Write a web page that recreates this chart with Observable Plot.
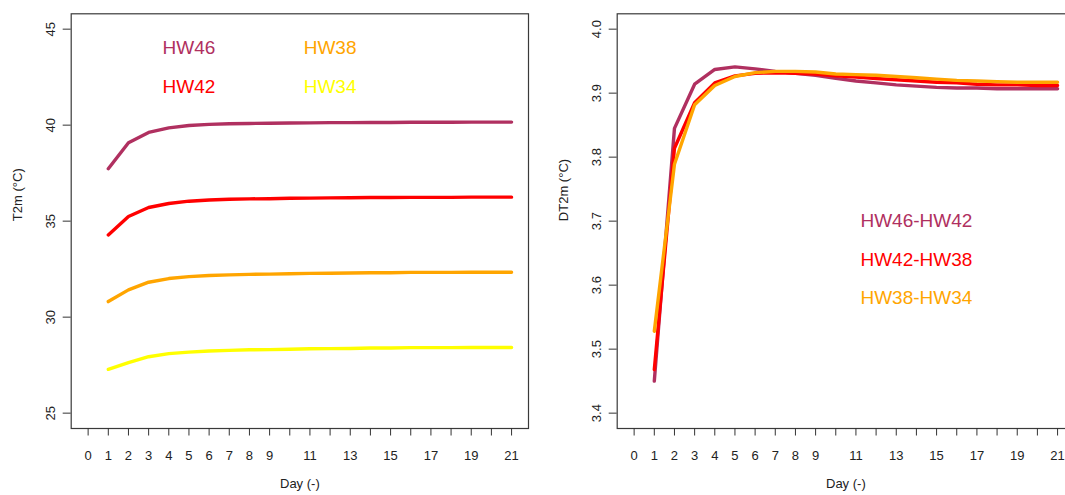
<!DOCTYPE html>
<html>
<head>
<meta charset="utf-8">
<script src="https://cdn.jsdelivr.net/npm/d3@7"></script>
<script src="https://cdn.jsdelivr.net/npm/@observablehq/plot@0.6"></script>
<style>
  html, body { margin: 0; padding: 0; background: #fff; }
  #wrap { position: relative; width: 1065px; height: 495px; overflow: hidden; background: #fff; }
  #left, #right { position: absolute; top: 0; width: 540px; height: 495px; }
  #left { left: 0; }
  #right { left: 546px; }
  svg { font-family: "Liberation Sans", Arial, sans-serif; max-width: none !important; }
</style>
</head>
<body>
<div id="wrap"><div id="left"></div><div id="right"></div></div>
<script>
// ---- data ----
const days = [1, 2, 3, 4, 5, 6, 7, 8, 9, 10, 11, 12, 13, 14, 15, 16, 17, 18, 19, 20, 21];
const hw46 = [37.73, 39.08, 39.62, 39.86, 39.98, 40.04, 40.07, 40.09, 40.10, 40.11, 40.12, 40.13, 40.13, 40.14, 40.14, 40.15, 40.15, 40.15, 40.16, 40.16, 40.16];
const hw42 = [34.28, 35.24, 35.71, 35.92, 36.04, 36.10, 36.14, 36.16, 36.17, 36.19, 36.20, 36.21, 36.22, 36.23, 36.23, 36.24, 36.24, 36.24, 36.25, 36.25, 36.25];
const hw38 = [30.81, 31.42, 31.82, 32.01, 32.11, 32.17, 32.20, 32.23, 32.24, 32.26, 32.28, 32.29, 32.30, 32.31, 32.31, 32.33, 32.33, 32.33, 32.34, 32.34, 32.34];
const hw34 = [27.28, 27.63, 27.94, 28.10, 28.18, 28.24, 28.27, 28.30, 28.31, 28.33, 28.35, 28.36, 28.37, 28.39, 28.39, 28.41, 28.41, 28.41, 28.42, 28.42, 28.42];
const d46_42 = [3.450, 3.845, 3.914, 3.937, 3.941, 3.938, 3.934, 3.931, 3.928, 3.923, 3.919, 3.916, 3.913, 3.911, 3.909, 3.908, 3.908, 3.907, 3.907, 3.907, 3.907];
const d42_38 = [3.468, 3.814, 3.885, 3.916, 3.927, 3.931, 3.932, 3.931, 3.930, 3.927, 3.925, 3.923, 3.921, 3.919, 3.917, 3.916, 3.914, 3.913, 3.913, 3.912, 3.912];
const d38_34 = [3.528, 3.789, 3.882, 3.912, 3.926, 3.932, 3.934, 3.934, 3.933, 3.930, 3.929, 3.928, 3.926, 3.924, 3.922, 3.920, 3.919, 3.918, 3.917, 3.917, 3.917];
const leftNames = ["HW46", "HW42", "HW38", "HW34"];
const rightNames = ["HW46-HW42", "HW42-HW38", "HW38-HW34"];
const colors = ["#B03060", "#FF0000", "#FFA500", "#FFFF00"];
const xTicks = [0, 1, 2, 3, 4, 5, 6, 7, 8, 9, 10, 11, 12, 13, 14, 15, 16, 17, 18, 19, 20, 21];
const yTicksLeft = [25, 30, 35, 40, 45];
const yTicksRight = [3.4, 3.5, 3.6, 3.7, 3.8, 3.9, 4.0];

// ---- helpers ----
const rows = (vals) => days.map((d, i) => ({day: d, value: vals[i]}));
const xLabel = (d) => (d < 10 || d % 2 === 1) ? String(d) : "";
const lineStyle = {x: "day", y: "value", strokeWidth: 3.4, strokeLinejoin: "round", strokeLinecap: "round"};

function panel({series, names, labelPos, yDomain, yTicks, yFormat, yTitle}) {
  const marks = [];
  series.forEach((s, i) => marks.push(Plot.line(rows(s), {...lineStyle, stroke: colors[i]})));
  names.forEach((n, i) => marks.push(Plot.text([n], {
    x: labelPos[i][0], y: labelPos[i][1], text: d => d,
    fill: colors[i], fontSize: 19, textAnchor: "middle"
  })));
  marks.push(Plot.frame({stroke: "#3a3a3a", strokeWidth: 1.2}));
  marks.push(Plot.axisX({ticks: xTicks, tickFormat: xLabel, tickSize: 7.5, tickPadding: 15, fontSize: 13, stroke: "#333", fill: "#222"}));
  marks.push(Plot.axisY({ticks: yTicks, tickFormat: yFormat, tickSize: 8, tickRotate: -90, tickPadding: 8.5, fontSize: 13, stroke: "#333", fill: "#222"}));
  marks.push(Plot.text(["Day (-)"], {frameAnchor: "bottom", dy: 59, text: d => d, fontSize: 13, fill: "#222"}));
  marks.push(Plot.text([yTitle], {frameAnchor: "left", dx: -53, rotate: -90, text: d => d, fontSize: 13, fill: "#222"}));
  return Plot.plot({
    width: 540, height: 495,
    marginLeft: 70.7, marginRight: 12, marginTop: 13.3, marginBottom: 67,
    style: {background: "white", fontFamily: "'Liberation Sans', Arial, sans-serif", overflow: "visible", maxWidth: "none"},
    x: {domain: [-0.84, 21.84], label: null},
    y: {domain: yDomain, label: null},
    marks
  });
}

document.getElementById("left").append(panel({
  series: [hw46, hw42, hw38, hw34],
  names: leftNames,
  labelPos: [[5, 44], [5, 42], [12, 44], [12, 42]],
  yDomain: [24.2, 45.8],
  yTicks: yTicksLeft,
  yFormat: d => String(d),
  yTitle: "T2m (°C)"
}));

document.getElementById("right").append(panel({
  series: [d46_42, d42_38, d38_34],
  names: rightNames,
  labelPos: [[14, 3.70], [14, 3.64], [14, 3.58]],
  yDomain: [3.376, 4.024],
  yTicks: yTicksRight,
  yFormat: d => d.toFixed(1),
  yTitle: "DT2m (°C)"
}));
</script>
</body>
</html>
